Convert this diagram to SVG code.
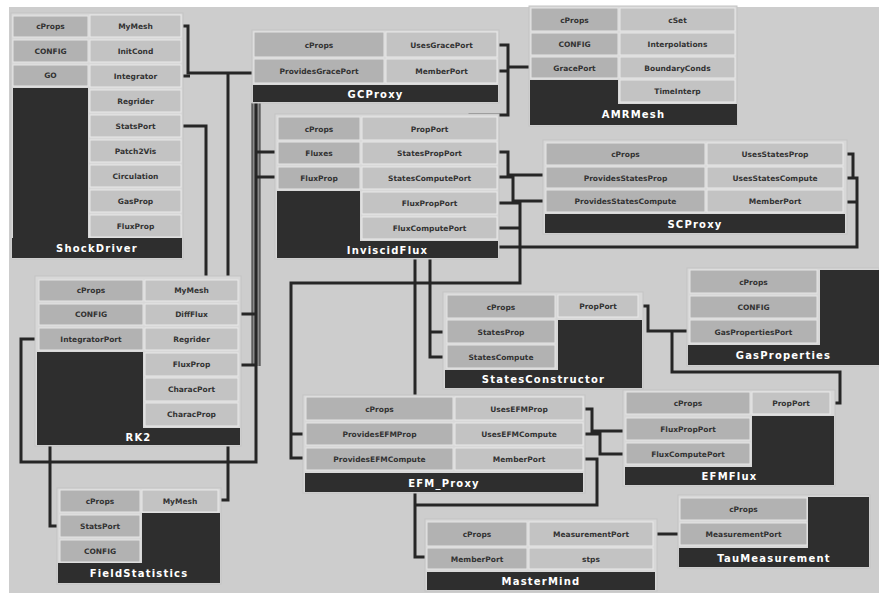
<svg xmlns="http://www.w3.org/2000/svg" width="879" height="594" viewBox="0 0 879 594">
<style>
.pn{fill:#d8d8d8;stroke:#c4c4c4;stroke-width:1}
.pc{fill:#b2b2b2;stroke:#e4e4e4;stroke-width:1}
.uc{fill:#c3c3c3;stroke:#e8e8e8;stroke-width:1}
.dk{fill:#2e2e2e}
.t{font-family:"DejaVu Sans",sans-serif;font-weight:bold;font-size:7.5px;fill:#333;text-anchor:middle}
.nt{font-family:"DejaVu Sans",sans-serif;font-weight:bold;font-size:10px;fill:#fff;text-anchor:middle;letter-spacing:1.2px}
.c{fill:none;stroke:#262626;stroke-width:3;stroke-linejoin:miter}
.cb{fill:none;stroke:#8a8a8a;stroke-width:7}
.cbe{fill:none;stroke:#333;stroke-width:9}
</style>
<rect width="879" height="594" fill="#ffffff"/>
<rect x="9" y="7" width="870" height="586" fill="#cdcdcd"/>

<g id="connectors">
<path class="cbe" d="M256 103 V366"/>
<path class="cb" d="M256 103 V366"/>
<path class="c" d="M181 26 H188 V73 H254"/>
<path class="c" d="M181 76 H190"/>
<path class="c" d="M228 73 V500 H219"/>
<path class="c" d="M256 73 V462 H21 V339 H39"/>
<path class="c" d="M256 152 H278 M256 177 H278 M240 314 H256 M240 365 H256"/>
<path class="c" d="M181 126 H206 V400 H50 V526 H60"/>
<path class="c" d="M497 45 H508 V115 H470 V247 M508 67 H531 M497 71 H508"/>
<path class="c" d="M497 152 H508 V175 H546"/>
<path class="c" d="M497 177 H513 V201 H546"/>
<path class="c" d="M497 203 H520 V283 H291 V458 H306 M497 228 H520 M291 434 H306"/>
<path class="c" d="M843 154 H853 V178 M843 178 H857 V247 H415 V557 H428 M843 202 H857"/>
<path class="c" d="M430 247 V357 H447 M430 332 H447"/>
<path class="c" d="M583 409 H592 V431 H626 M583 434 H600 V454 H626 M583 459 H597 V505 H415"/>
<path class="c" d="M638 306 H648 V331 H690"/>
<path class="c" d="M830 403 H840 V372 H672 V332"/>
<path class="c" d="M653 534 H680"/>
</g>

<g id="ShockDriver">
<rect class="pn" x="11" y="13" width="172" height="246"/>
<rect class="pc" x="13" y="16" width="75" height="21"/><text class="t" x="50.5" y="29">cProps</text>
<rect class="pc" x="13" y="40" width="75" height="22"/><text class="t" x="50.5" y="53.5">CONFIG</text>
<rect class="pc" x="13" y="65" width="75" height="21"/><text class="t" x="50.5" y="78">GO</text>
<rect class="dk" x="13" y="88" width="75" height="170"/>
<rect class="uc" x="90" y="15" width="91" height="22"/><text class="t" x="135.5" y="28.5">MyMesh</text>
<rect class="uc" x="90" y="40" width="91" height="22"/><text class="t" x="135.5" y="53.5">InitCond</text>
<rect class="uc" x="90" y="65" width="91" height="22"/><text class="t" x="135.5" y="78.5">Integrator</text>
<rect class="uc" x="90" y="90" width="91" height="22"/><text class="t" x="135.5" y="103.5">Regrider</text>
<rect class="uc" x="90" y="115" width="91" height="22"/><text class="t" x="135.5" y="128.5">StatsPort</text>
<rect class="uc" x="90" y="140" width="91" height="22"/><text class="t" x="135.5" y="153.5">Patch2Vis</text>
<rect class="uc" x="90" y="165" width="91" height="22"/><text class="t" x="135.5" y="178.5">Circulation</text>
<rect class="uc" x="90" y="190" width="91" height="22"/><text class="t" x="135.5" y="203.5">GasProp</text>
<rect class="uc" x="90" y="215" width="91" height="22"/><text class="t" x="135.5" y="228.5">FluxProp</text>
<rect class="dk" x="12" y="238" width="170" height="20"/><text class="nt" x="97" y="252">ShockDriver</text>
</g>

<g id="GCProxy">
<rect class="pn" x="252" y="30" width="247" height="73"/>
<rect class="pc" x="254" y="32" width="130" height="25"/><text class="t" x="319" y="47.5">cProps</text>
<rect class="uc" x="386" y="32" width="111" height="25"/><text class="t" x="441.5" y="47.5">UsesGracePort</text>
<rect class="pc" x="254" y="59" width="130" height="24"/><text class="t" x="319" y="74">ProvidesGracePort</text>
<rect class="uc" x="386" y="59" width="111" height="24"/><text class="t" x="441.5" y="74">MemberPort</text>
<rect class="dk" x="253" y="85" width="245" height="17"/><text class="nt" x="375.5" y="97.5">GCProxy</text>
</g>

<g id="AMRMesh">
<rect class="pn" x="529" y="6" width="208" height="120"/>
<rect class="pc" x="531" y="8" width="87" height="23"/><text class="t" x="574.5" y="22.5">cProps</text>
<rect class="pc" x="531" y="33" width="87" height="22"/><text class="t" x="574.5" y="47">CONFIG</text>
<rect class="pc" x="531" y="57" width="87" height="21"/><text class="t" x="574.5" y="70.5">GracePort</text>
<rect class="uc" x="620" y="8" width="115" height="23"/><text class="t" x="677.5" y="22.5">cSet</text>
<rect class="uc" x="620" y="33" width="115" height="22"/><text class="t" x="677.5" y="47">Interpolations</text>
<rect class="uc" x="620" y="57" width="115" height="21"/><text class="t" x="677.5" y="70.5">BoundaryConds</text>
<rect class="uc" x="620" y="80" width="115" height="22"/><text class="t" x="677.5" y="93.5">TimeInterp</text>
<rect class="dk" x="530" y="80" width="88" height="45"/>
<rect class="dk" x="530" y="104" width="207" height="21"/><text class="nt" x="633.5" y="118">AMRMesh</text>
</g>

<g id="InviscidFlux">
<rect class="pn" x="275" y="114" width="224" height="145"/>
<rect class="pc" x="278" y="117" width="82" height="23"/><text class="t" x="319" y="131.5">cProps</text>
<rect class="pc" x="278" y="142" width="82" height="22"/><text class="t" x="319" y="156">Fluxes</text>
<rect class="pc" x="278" y="167" width="82" height="22"/><text class="t" x="319" y="181">FluxProp</text>
<rect class="uc" x="362" y="117" width="135" height="23"/><text class="t" x="429.5" y="131.5">PropPort</text>
<rect class="uc" x="362" y="142" width="135" height="22"/><text class="t" x="429.5" y="156">StatesPropPort</text>
<rect class="uc" x="362" y="167" width="135" height="22"/><text class="t" x="429.5" y="181">StatesComputePort</text>
<rect class="uc" x="362" y="192" width="135" height="22"/><text class="t" x="429.5" y="206">FluxPropPort</text>
<rect class="uc" x="362" y="217" width="135" height="22"/><text class="t" x="429.5" y="231">FluxComputePort</text>
<rect class="dk" x="277" y="191" width="83" height="67"/>
<rect class="dk" x="277" y="241" width="221" height="17"/><text class="nt" x="387.5" y="253.5">InviscidFlux</text>
</g>

<g id="SCProxy">
<rect class="pn" x="543" y="140" width="304" height="94"/>
<rect class="pc" x="546" y="143" width="159" height="22"/><text class="t" x="625.5" y="157">cProps</text>
<rect class="pc" x="546" y="167" width="159" height="21"/><text class="t" x="625.5" y="180.5">ProvidesStatesProp</text>
<rect class="pc" x="546" y="190" width="159" height="22"/><text class="t" x="625.5" y="204">ProvidesStatesCompute</text>
<rect class="uc" x="707" y="143" width="136" height="22"/><text class="t" x="775" y="157">UsesStatesProp</text>
<rect class="uc" x="707" y="167" width="136" height="21"/><text class="t" x="775" y="180.5">UsesStatesCompute</text>
<rect class="uc" x="707" y="190" width="136" height="22"/><text class="t" x="775" y="204">MemberPort</text>
<rect class="dk" x="545" y="214" width="300" height="19"/><text class="nt" x="695" y="227.5">SCProxy</text>
</g>

<g id="RK2">
<rect class="pn" x="35" y="276" width="206" height="170"/>
<rect class="pc" x="39" y="280" width="104" height="21"/><text class="t" x="91" y="293">cProps</text>
<rect class="pc" x="39" y="304" width="104" height="21"/><text class="t" x="91" y="317">CONFIG</text>
<rect class="pc" x="39" y="328" width="104" height="22"/><text class="t" x="91" y="341.5">IntegratorPort</text>
<rect class="uc" x="145" y="280" width="93" height="21"/><text class="t" x="191.5" y="293">MyMesh</text>
<rect class="uc" x="145" y="304" width="93" height="21"/><text class="t" x="191.5" y="317">DiffFlux</text>
<rect class="uc" x="145" y="328" width="93" height="22"/><text class="t" x="191.5" y="341.5">Regrider</text>
<rect class="uc" x="145" y="353" width="93" height="23"/><text class="t" x="191.5" y="367">FluxProp</text>
<rect class="uc" x="145" y="378" width="93" height="23"/><text class="t" x="191.5" y="392">CharacPort</text>
<rect class="uc" x="145" y="403" width="93" height="23"/><text class="t" x="191.5" y="417">CharacProp</text>
<rect class="dk" x="37" y="352" width="106" height="93"/>
<rect class="dk" x="37" y="428" width="203" height="17"/><text class="nt" x="138.5" y="440.5">RK2</text>
</g>

<g id="StatesConstructor">
<rect class="pn" x="443" y="292" width="200" height="97"/>
<rect class="pc" x="447" y="295" width="108" height="23"/><text class="t" x="501" y="309.5">cProps</text>
<rect class="pc" x="447" y="320" width="108" height="23"/><text class="t" x="501" y="334.5">StatesProp</text>
<rect class="pc" x="447" y="345" width="108" height="23"/><text class="t" x="501" y="359.5">StatesCompute</text>
<rect class="uc" x="558" y="295" width="80" height="22"/><text class="t" x="598" y="309">PropPort</text>
<rect class="dk" x="558" y="320" width="84" height="68"/>
<rect class="dk" x="445" y="370" width="197" height="18"/><text class="nt" x="543.5" y="383">StatesConstructor</text>
</g>

<g id="GasProperties">
<rect class="pn" x="687" y="268" width="192" height="98"/>
<rect class="pc" x="690" y="270" width="127" height="23"/><text class="t" x="753.5" y="284.5">cProps</text>
<rect class="pc" x="690" y="296" width="127" height="22"/><text class="t" x="753.5" y="310">CONFIG</text>
<rect class="pc" x="690" y="320" width="127" height="23"/><text class="t" x="753.5" y="334.5">GasPropertiesPort</text>
<rect class="dk" x="820" y="270" width="59" height="95"/>
<rect class="dk" x="688" y="345" width="191" height="20"/><text class="nt" x="783.5" y="359">GasProperties</text>
</g>

<g id="EFM_Proxy">
<rect class="pn" x="303" y="395" width="282" height="98"/>
<rect class="pc" x="306" y="397" width="147" height="23"/><text class="t" x="379.5" y="411.5">cProps</text>
<rect class="pc" x="306" y="423" width="147" height="22"/><text class="t" x="379.5" y="437">ProvidesEFMProp</text>
<rect class="pc" x="306" y="448" width="147" height="22"/><text class="t" x="379.5" y="462">ProvidesEFMCompute</text>
<rect class="uc" x="455" y="397" width="128" height="23"/><text class="t" x="519" y="411.5">UsesEFMProp</text>
<rect class="uc" x="455" y="423" width="128" height="22"/><text class="t" x="519" y="437">UsesEFMCompute</text>
<rect class="uc" x="455" y="448" width="128" height="22"/><text class="t" x="519" y="462">MemberPort</text>
<rect class="dk" x="305" y="473" width="278" height="19"/><text class="nt" x="444" y="486.5">EFM_Proxy</text>
</g>

<g id="EFMFlux">
<rect class="pn" x="623" y="390" width="212" height="96"/>
<rect class="pc" x="626" y="392" width="124" height="22"/><text class="t" x="688" y="406">cProps</text>
<rect class="pc" x="626" y="418" width="124" height="22"/><text class="t" x="688" y="432">FluxPropPort</text>
<rect class="pc" x="626" y="443" width="124" height="21"/><text class="t" x="688" y="456.5">FluxComputePort</text>
<rect class="uc" x="752" y="392" width="78" height="22"/><text class="t" x="791" y="406">PropPort</text>
<rect class="dk" x="752" y="416" width="82" height="69"/>
<rect class="dk" x="625" y="467" width="209" height="18"/><text class="nt" x="729.5" y="480">EFMFlux</text>
</g>

<g id="FieldStatistics">
<rect class="pn" x="57" y="488" width="164" height="96"/>
<rect class="pc" x="60" y="490" width="80" height="22"/><text class="t" x="100" y="504">cProps</text>
<rect class="pc" x="60" y="515" width="80" height="22"/><text class="t" x="100" y="529">StatsPort</text>
<rect class="pc" x="60" y="540" width="80" height="22"/><text class="t" x="100" y="554">CONFIG</text>
<rect class="uc" x="142" y="490" width="76" height="22"/><text class="t" x="180" y="504">MyMesh</text>
<rect class="dk" x="142" y="513" width="78" height="70"/>
<rect class="dk" x="58" y="563" width="162" height="20"/><text class="nt" x="139" y="577">FieldStatistics</text>
</g>

<g id="MasterMind">
<rect class="pn" x="425" y="519" width="232" height="72"/>
<rect class="pc" x="427" y="522" width="100" height="24"/><text class="t" x="477" y="537">cProps</text>
<rect class="pc" x="427" y="548" width="100" height="21"/><text class="t" x="477" y="561.5">MemberPort</text>
<rect class="uc" x="529" y="522" width="124" height="24"/><text class="t" x="591" y="537">MeasurementPort</text>
<rect class="uc" x="529" y="548" width="124" height="21"/><text class="t" x="591" y="561.5">stps</text>
<rect class="dk" x="427" y="572" width="228" height="18"/><text class="nt" x="541" y="585">MasterMind</text>
</g>

<g id="TauMeasurement">
<rect class="pn" x="678" y="495" width="192" height="73"/>
<rect class="pc" x="680" y="498" width="127" height="22"/><text class="t" x="743.5" y="512">cProps</text>
<rect class="pc" x="680" y="523" width="127" height="22"/><text class="t" x="743.5" y="537">MeasurementPort</text>
<rect class="dk" x="808" y="497" width="61" height="70"/>
<rect class="dk" x="679" y="548" width="190" height="19"/><text class="nt" x="774" y="561.5">TauMeasurement</text>
</g>
</svg>
